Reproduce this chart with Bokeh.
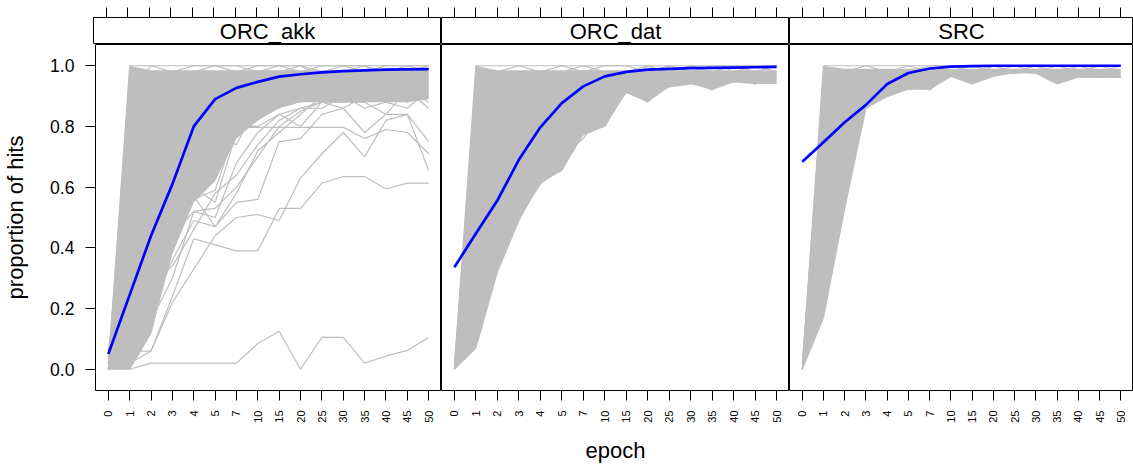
import math
from bokeh.plotting import figure
from bokeh.models import Range1d, FixedTicker, PrintfTickFormatter, ColumnDataSource
from bokeh.layouts import column, row
from bokeh.embed import file_html
from bokeh.resources import INLINE
from bokeh.core.properties import value

FONT = "Liberation Sans"
GRAY = "#BEBEBE"

# ---------------- data ----------------
epochs = [0, 1, 2, 3, 4, 5, 7, 10, 15, 20, 25, 30, 35, 40, 45, 50]
epoch_labels = [str(e) for e in epochs]
panel_names = ["ORC_akk", "ORC_dat", "SRC"]
y_ticks = [0.0, 0.2, 0.4, 0.6, 0.8, 1.0]

# blue summary curve per panel
mean_akk = [0.05, 0.245, 0.44, 0.61, 0.80, 0.89, 0.927, 0.947, 0.964, 0.972, 0.978, 0.982, 0.985, 0.987, 0.988, 0.989]
mean_dat = [0.336, 0.447, 0.556, 0.69, 0.797, 0.877, 0.932, 0.965, 0.980, 0.987, 0.990, 0.992, 0.993, 0.994, 0.995, 0.996]
mean_src = [0.684, 0.748, 0.814, 0.871, 0.940, 0.976, 0.991, 0.997, 0.999, 1.0, 1.0, 1.0, 1.0, 1.0, 1.0, 1.0]

# dense core of the individual curves (lower / upper envelope per epoch)
core_akk_lo = [0.00, 0.00, 0.12, 0.38, 0.55, 0.62, 0.76, 0.82, 0.86, 0.88, 0.88, 0.88, 0.88, 0.88, 0.88, 0.89]
core_akk_hi = [0.04, 1.00, 0.985, 0.985, 0.985, 0.985, 0.985, 0.985, 0.985, 0.985, 0.985, 0.985, 0.985, 0.985, 0.985, 0.985]
core_dat_lo = [0.00, 0.07, 0.32, 0.49, 0.61, 0.655, 0.77, 0.80, 0.91, 0.88, 0.93, 0.94, 0.92, 0.945, 0.94, 0.94]
core_dat_hi = [0.02, 1.00, 0.985, 0.985, 0.985, 0.985, 0.985, 0.985, 0.985, 0.985, 0.985, 0.985, 0.985, 0.985, 0.985, 0.985]
core_src_lo = [0.00, 0.17, 0.53, 0.86, 0.896, 0.923, 0.923, 0.965, 0.94, 0.965, 0.975, 0.975, 0.94, 0.962, 0.962, 0.962]
core_src_hi = [0.03, 1.00, 0.99, 0.99, 0.99, 0.99, 0.99, 0.99, 0.99, 0.99, 0.99, 0.99, 0.99, 0.99, 0.99, 0.99]

# individual learners (gray curves)
lines_akk = [
    [0.00, 0.00, 0.02, 0.02, 0.02, 0.02, 0.02, 0.085, 0.125, 0.00, 0.105, 0.105, 0.02, 0.043, 0.062, 0.105],
    [0.00, 0.02, 0.06, 0.24, 0.43, 0.41, 0.39, 0.39, 0.53, 0.53, 0.613, 0.635, 0.635, 0.594, 0.613, 0.613],
    [0.02, 0.06, 0.06, 0.22, 0.33, 0.44, 0.50, 0.51, 0.49, 0.63, 0.71, 0.78, 0.70, 0.82, 0.84, 0.655],
    [0.00, 0.10, 0.20, 0.36, 0.49, 0.47, 0.55, 0.56, 0.75, 0.76, 0.84, 0.86, 0.78, 0.84, 0.84, 0.75],
    [0.04, 0.12, 0.30, 0.44, 0.52, 0.53, 0.60, 0.70, 0.80, 0.85, 0.88, 0.88, 0.88, 0.84, 0.92, 0.86],
    [0.00, 0.20, 0.35, 0.50, 0.56, 0.59, 0.797, 0.797, 0.797, 0.797, 0.797, 0.797, 0.76, 0.79, 0.78, 0.71],
    [0.00, 0.25, 0.45, 0.52, 0.57, 0.47, 0.58, 0.72, 0.78, 0.84, 0.90, 0.88, 0.90, 0.94, 0.90, 0.90],
    [0.02, 0.30, 0.40, 0.55, 0.60, 0.55, 0.78, 0.82, 0.90, 0.89, 0.93, 0.92, 0.94, 0.93, 0.96, 0.94],
    [0.00, 0.08, 0.28, 0.34, 0.46, 0.58, 0.64, 0.74, 0.82, 0.86, 0.86, 0.90, 0.86, 0.88, 0.90, 0.90],
    [0.02, 0.04, 0.16, 0.30, 0.52, 0.50, 0.68, 0.78, 0.84, 0.80, 0.88, 0.86, 0.90, 0.92, 0.88, 0.92],
    [0.00, 1.00, 1.00, 1.00, 1.00, 1.00, 1.00, 1.00, 1.00, 1.00, 1.00, 1.00, 1.00, 1.00, 1.00, 1.00],
    [0.02, 0.90, 1.00, 0.98, 1.00, 1.00, 0.98, 1.00, 1.00, 0.98, 1.00, 1.00, 1.00, 0.98, 1.00, 1.00],
    [0.00, 0.70, 0.92, 0.96, 0.98, 1.00, 1.00, 0.98, 1.00, 1.00, 0.98, 1.00, 0.98, 1.00, 1.00, 0.98],
    [0.04, 0.50, 0.80, 0.92, 0.96, 0.94, 0.98, 0.96, 0.98, 1.00, 0.96, 0.98, 1.00, 0.96, 0.98, 1.00],
    [0.00, 0.35, 0.66, 0.84, 0.90, 0.94, 0.92, 0.96, 0.94, 0.96, 0.98, 0.96, 0.94, 0.98, 0.96, 0.98],
    [0.02, 0.20, 0.50, 0.70, 0.82, 0.88, 0.90, 0.92, 0.96, 0.94, 0.94, 0.96, 0.96, 0.94, 0.98, 0.96],
    [0.00, 0.10, 0.35, 0.62, 0.76, 0.84, 0.86, 0.90, 0.92, 0.92, 0.96, 0.94, 0.92, 0.96, 0.94, 0.94],
    [0.00, 0.04, 0.22, 0.48, 0.66, 0.78, 0.84, 0.88, 0.90, 0.94, 0.92, 0.92, 0.96, 0.92, 0.92, 0.96],
    [0.02, 0.00, 0.12, 0.40, 0.58, 0.70, 0.82, 0.86, 0.88, 0.90, 0.90, 0.94, 0.90, 0.90, 0.94, 0.92],
    [0.00, 0.02, 0.18, 0.52, 0.62, 0.66, 0.78, 0.84, 0.92, 0.88, 0.92, 0.90, 0.92, 0.94, 0.90, 0.90],
    [0.06, 0.60, 0.70, 0.78, 0.72, 0.80, 0.88, 0.92, 0.90, 0.96, 0.94, 0.98, 0.94, 0.96, 0.96, 0.94],
    [0.00, 0.80, 0.62, 0.88, 0.94, 0.90, 0.96, 0.94, 0.98, 0.96, 0.98, 0.94, 0.98, 0.98, 0.94, 0.98],
    [0.00, 0.45, 0.40, 0.58, 0.70, 0.76, 0.74, 0.88, 0.86, 0.92, 0.90, 0.92, 0.88, 0.92, 0.92, 0.88],
    [0.02, 0.15, 0.28, 0.45, 0.60, 0.63, 0.80, 0.80, 0.84, 0.86, 0.88, 0.90, 0.92, 0.88, 0.86, 0.92],
]
lines_dat = [
    [0.00, 0.07, 0.32, 0.49, 0.62, 0.655, 0.78, 0.80, 0.92, 0.88, 0.94, 0.96, 0.92, 0.96, 0.94, 0.96],
    [0.02, 0.10, 0.34, 0.50, 0.61, 0.70, 0.76, 0.86, 0.91, 0.92, 0.93, 0.94, 0.96, 0.945, 0.96, 0.94],
    [0.00, 0.14, 0.40, 0.49, 0.66, 0.66, 0.82, 0.80, 0.94, 0.90, 0.96, 0.94, 0.94, 0.98, 0.94, 0.98],
    [0.00, 0.30, 0.55, 0.70, 0.80, 0.86, 0.90, 0.92, 0.96, 0.94, 0.98, 0.96, 0.98, 0.96, 0.98, 0.96],
    [0.02, 0.55, 0.75, 0.86, 0.92, 0.94, 0.96, 0.98, 0.98, 0.96, 0.98, 1.00, 0.98, 1.00, 0.98, 1.00],
    [0.00, 0.80, 0.90, 0.96, 0.98, 1.00, 0.98, 1.00, 1.00, 0.98, 1.00, 0.98, 1.00, 1.00, 1.00, 0.98],
    [0.00, 1.00, 1.00, 1.00, 1.00, 1.00, 1.00, 1.00, 1.00, 1.00, 1.00, 1.00, 1.00, 1.00, 1.00, 1.00],
    [0.02, 0.90, 0.98, 1.00, 0.98, 0.98, 1.00, 0.98, 0.98, 1.00, 0.98, 1.00, 0.98, 0.98, 1.00, 1.00],
    [0.00, 0.40, 0.62, 0.78, 0.88, 0.90, 0.94, 0.96, 0.94, 1.00, 0.96, 0.98, 0.96, 0.98, 0.96, 0.98],
    [0.00, 0.20, 0.45, 0.62, 0.74, 0.80, 0.88, 0.90, 0.98, 0.92, 1.00, 0.98, 0.94, 1.00, 0.98, 0.96],
]
lines_src = [
    [0.00, 0.17, 0.53, 0.86, 0.90, 0.923, 0.923, 0.965, 0.94, 0.965, 0.98, 0.975, 0.94, 0.962, 0.962, 0.962],
    [0.02, 0.25, 0.60, 0.88, 0.90, 0.94, 0.92, 0.98, 0.96, 0.98, 0.975, 0.98, 0.96, 0.98, 0.962, 0.98],
    [0.00, 0.45, 0.75, 0.90, 0.94, 0.96, 0.98, 0.98, 1.00, 0.98, 1.00, 0.98, 1.00, 0.98, 1.00, 0.98],
    [0.00, 0.70, 0.88, 0.94, 0.98, 0.98, 1.00, 1.00, 0.98, 1.00, 0.98, 1.00, 0.98, 1.00, 0.98, 1.00],
    [0.00, 1.00, 1.00, 1.00, 1.00, 1.00, 1.00, 1.00, 1.00, 1.00, 1.00, 1.00, 1.00, 1.00, 1.00, 1.00],
    [0.02, 0.90, 0.98, 1.00, 0.98, 1.00, 0.98, 1.00, 1.00, 1.00, 1.00, 1.00, 1.00, 0.98, 1.00, 1.00],
    [0.00, 0.35, 0.70, 0.92, 0.96, 0.94, 0.96, 0.98, 0.96, 1.00, 0.98, 1.00, 0.96, 1.00, 0.98, 0.98],
]

panel_data = [
    (mean_akk, core_akk_lo, core_akk_hi, lines_akk),
    (mean_dat, core_dat_lo, core_dat_hi, lines_dat),
    (mean_src, core_src_lo, core_src_hi, lines_src),
]

# layout (page is drawn from the top-left corner of the window)
FRAME_WS = [348, 348, 344]
FRAME_H = 346
LEFT = 93
STRIP_H = 27
TOP = 17
BOTTOM = 77

# epochs are equally spaced categories: position k+1 for the k-th epoch
x_pos = list(range(1, len(epochs) + 1))
label_map = {pos: lab for pos, lab in zip(x_pos, epoch_labels)}
x_lo, x_hi = x_pos[0] - 0.6, x_pos[-1] + 0.6


def style_x_ticks(ax, tick_len):
    ax.ticker = FixedTicker(ticks=x_pos)
    ax.major_tick_in = 0
    ax.major_tick_out = tick_len
    ax.major_tick_line_color = "black"
    ax.axis_line_color = None
    ax.minor_tick_out = 0
    ax.minor_tick_in = 0


strips = []
panels = []
for i, name in enumerate(panel_names):
    mean, lo, hi, lines = panel_data[i]
    first = i == 0
    left = LEFT if first else 0
    fw = FRAME_WS[i]
    xr = Range1d(x_lo, x_hi)

    # ---- data panel ----
    p = figure(x_range=xr, y_range=Range1d(-0.07, 1.07),
               width=fw + left, height=FRAME_H + BOTTOM,
               min_border=0, min_border_left=left, min_border_right=0,
               min_border_top=0, min_border_bottom=BOTTOM,
               y_axis_location="left" if first else None,
               output_backend="svg", toolbar_location=None, margin=0)
    p.outline_line_color = "black"
    p.outline_line_width = 1
    p.xgrid.visible = False
    p.ygrid.visible = False
    p.background_fill_color = "white"
    p.border_fill_color = "white"

    p.varea(x=x_pos, y1=lo, y2=hi, fill_color=GRAY, fill_alpha=1.0)
    p.multi_line(xs=[x_pos] * len(lines), ys=lines, line_color=GRAY, line_width=1.2)
    p.line(x=x_pos, y=mean, line_color="#0000FF", line_width=2.7)

    xa = p.xaxis[0]
    style_x_ticks(xa, 10)
    xa.major_label_overrides = label_map
    xa.major_label_orientation = math.pi / 2
    xa.major_label_text_font = FONT
    xa.major_label_text_font_size = "11px"
    xa.major_label_text_color = "black"
    xa.major_label_standoff = 10
    if i == 1:
        xa.axis_label = "epoch"
        xa.axis_label_text_font = FONT
        xa.axis_label_text_font_size = "22px"
        xa.axis_label_text_font_style = "normal"
        xa.axis_label_text_color = "black"
        xa.axis_label_standoff = 12

    if first:
        ya = p.yaxis[0]
        ya.ticker = FixedTicker(ticks=y_ticks)
        ya.formatter = PrintfTickFormatter(format="%.1f")
        ya.major_label_text_font = FONT
        ya.major_label_text_font_size = "17.6px"
        ya.major_label_text_color = "black"
        ya.major_label_standoff = 11
        ya.major_tick_out = 10
        ya.major_tick_in = 0
        ya.minor_tick_out = 0
        ya.minor_tick_in = 0
        ya.major_tick_line_color = "black"
        ya.axis_line_color = None
        ya.axis_label = "proportion of hits"
        ya.axis_label_text_font = FONT
        ya.axis_label_text_font_size = "22px"
        ya.axis_label_text_font_style = "normal"
        ya.axis_label_text_color = "black"
        ya.axis_label_standoff = 19

    # ---- strip above the panel (same epoch axis, ticks on top) ----
    s = figure(x_range=xr, y_range=Range1d(0, 1),
               width=fw + left, height=STRIP_H + TOP,
               min_border=0, min_border_left=left, min_border_right=0,
               min_border_top=TOP, min_border_bottom=0,
               x_axis_location="above", y_axis_location=None,
               output_backend="svg", toolbar_location=None, margin=0)
    s.outline_line_color = "black"
    s.outline_line_width = 1
    s.xgrid.visible = False
    s.ygrid.visible = False
    sa = s.xaxis[0]
    style_x_ticks(sa, 10)
    sa.major_label_overrides = {pos: "" for pos in x_pos}
    sa.major_label_text_font_size = "1px"
    sa.major_label_text_color = None
    sa.major_label_standoff = 0
    src = ColumnDataSource(dict(x=[(x_lo + x_hi) / 2.0], y=[0.5], t=[name]))
    s.text(x="x", y="y", text="t", source=src, text_align="center", text_baseline="middle",
           text_font=value(FONT), text_font_size="22px", text_color="black")

    strips.append(s)
    panels.append(p)

layout = column(row(*strips, spacing=0, margin=0), row(*panels, spacing=0, margin=0),
                spacing=0, margin=0)

open("out.html", "w").write(file_html(layout, INLINE))
